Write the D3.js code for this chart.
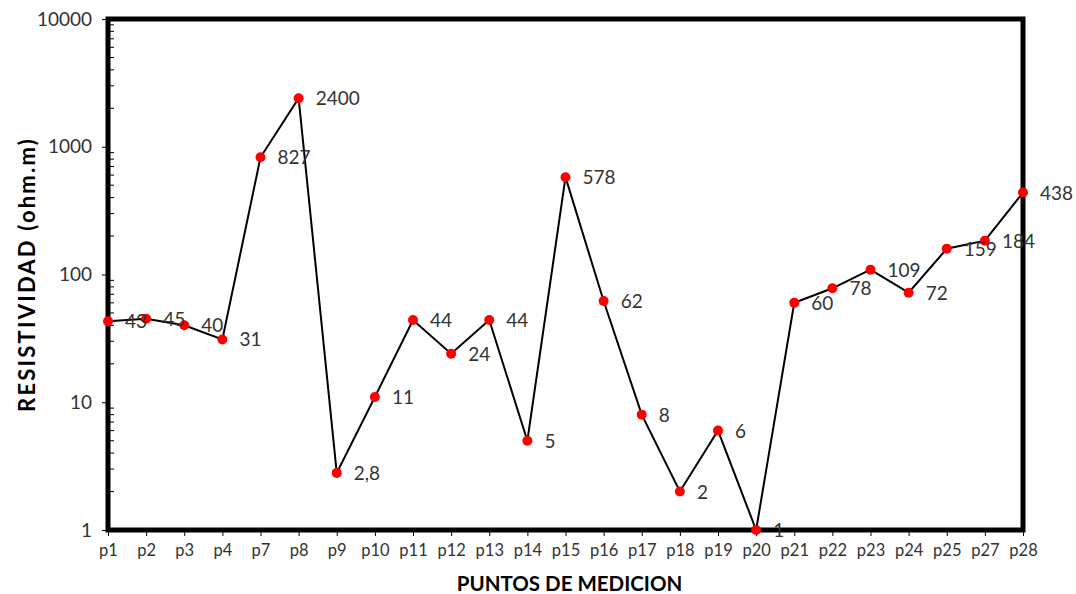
<!DOCTYPE html>
<html>
<head>
<meta charset="utf-8">
<script src="https://cdn.jsdelivr.net/npm/d3@7"></script>
<style>
  body { margin: 0; background: #fff; }
  text { font-family: "Lato", "DejaVu Sans", sans-serif; }
</style>
</head>
<body>
<div id="chart"></div>
<script>
// puntos de medicion y resistividad
var puntos = ["p1","p2","p3","p4","p7","p8","p9","p10","p11","p12","p13","p14","p15",
              "p16","p17","p18","p19","p20","p21","p22","p23","p24","p25","p27","p28"];
var resistividad = [43,45,40,31,827,2400,2.8,11,44,24,44,5,578,62,8,2,6,1,60,78,109,72,159,184,438];
var etiquetas = ["43","45","40","31","827","2400","2,8","11","44","24","44","5","578","62","8","2","6","1","60","78","109","72","159","184","438"];
var yTicks = [1, 10, 100, 1000, 10000];

var svgWidth = 1076, svgHeight = 594;
var margin = {top: 19, right: 53, bottom: 64, left: 108};
var chartWidth = svgWidth - margin.left - margin.right;
var chartHeight = svgHeight - margin.top - margin.bottom;

var svg = d3.select("#chart").append("svg")
  .attr("width", svgWidth).attr("height", svgHeight);

var chartGroup = svg.append("g")
  .attr("transform", `translate(${margin.left},${margin.top})`);

var xScale = d3.scalePoint().domain(puntos).range([0, chartWidth]).padding(0);
var yScale = d3.scaleLog().domain([1, 10000]).range([chartHeight, 0]);

// minor ticks inside the left axis
var minor = [];
for (var d = 1; d < 10000; d *= 10) {
  for (var k = 2; k <= 9; k++) minor.push(d * k);
}
chartGroup.selectAll(".minor").data(minor).enter().append("line")
  .attr("x1", 0).attr("x2", 6)
  .attr("y1", v => yScale(v)).attr("y2", v => yScale(v))
  .attr("stroke", "#000").attr("stroke-width", 1);

// y axis
var yAxis = d3.axisLeft(yScale).tickValues(yTicks).tickFormat(d3.format("d")).tickSize(6).tickPadding(10);
var gy = chartGroup.append("g").call(yAxis);
gy.select(".domain").remove();
gy.selectAll("text").attr("font-size", 19).attr("fill", "#333")
  .style("font-family", "Lato, sans-serif");

// x axis
var xAxis = d3.axisBottom(xScale).tickSize(6).tickPadding(8);
var gx = chartGroup.append("g").attr("transform", `translate(0,${chartHeight})`).call(xAxis);
gx.select(".domain").remove();
gx.selectAll("text").attr("font-size", 16.5).attr("fill", "#333")
  .style("font-family", "Lato, sans-serif");

// frame
chartGroup.append("rect")
  .attr("x", 0).attr("y", 0).attr("width", chartWidth).attr("height", chartHeight)
  .attr("fill", "none").attr("stroke", "#000").attr("stroke-width", 5);

// line
var line = d3.line()
  .x((v, i) => xScale(puntos[i]))
  .y(v => yScale(v));

chartGroup.append("path")
  .datum(resistividad)
  .attr("d", line)
  .attr("fill", "none").attr("stroke", "#000").attr("stroke-width", 2);

// points
chartGroup.selectAll("circle").data(resistividad).enter().append("circle")
  .attr("cx", (v, i) => xScale(puntos[i]))
  .attr("cy", v => yScale(v))
  .attr("r", 5)
  .attr("fill", "#ff0000");

// labels
chartGroup.selectAll(".lbl").data(resistividad).enter().append("text")
  .attr("class", "lbl")
  .text((v, i) => etiquetas[i])
  .attr("x", (v, i) => xScale(puntos[i]) + 17)
  .attr("y", v => yScale(v) + 7)
  .attr("font-size", 19)
  .attr("fill", "#333");

// axis titles
svg.append("text")
  .attr("transform", "translate(35," + (margin.top + chartHeight / 2) + ") rotate(-90)")
  .attr("text-anchor", "middle")
  .attr("font-size", 22).attr("font-weight", "bold")
  .attr("letter-spacing", 2.2)
  .text("RESISTIVIDAD (ohm.m)");

svg.append("text")
  .attr("x", margin.left + chartWidth / 2 + 4)
  .attr("y", 591)
  .attr("text-anchor", "middle")
  .attr("font-size", 20.5).attr("font-weight", "bold")
  .text("PUNTOS DE MEDICION");
</script>
</body>
</html>
